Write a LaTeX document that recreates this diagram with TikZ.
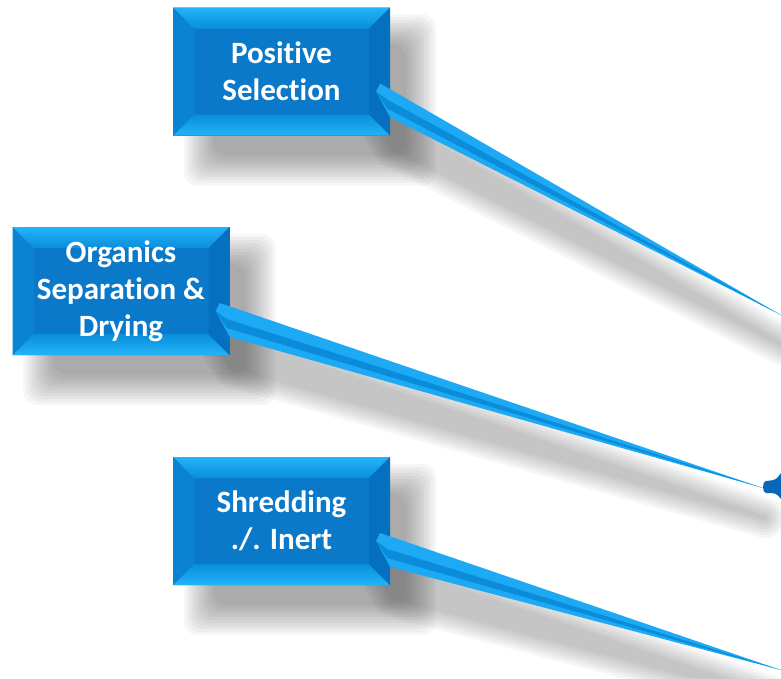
\documentclass[tikz,border=0pt]{standalone}
\usepackage{fontspec}
\setmainfont{Carlito}[Ligatures={NoCommon}]
\usepackage{tikz}
\usetikzlibrary{calc}
\pgfdeclarelayer{paper}
\pgfdeclarelayer{background}
\pgfsetlayers{paper,background,main}

\definecolor{boxface}{HTML}{0A79C9}
\definecolor{bevlight}{HTML}{22B4F8}
\definecolor{bevtop}{HTML}{0A8EDC}
\definecolor{bevleft}{HTML}{0A84D2}
\definecolor{bevright}{HTML}{0570BF}
\definecolor{tailblue}{HTML}{1DA9F4}
\definecolor{tailmid}{HTML}{0A8CDB}
\definecolor{blobblue}{HTML}{0568B8}
\definecolor{shadowgrey}{HTML}{303030}

% bevelled face of a stage box
\newcommand{\bevel}{%
  \coordinate (nw) at (path picture bounding box.north west);
  \coordinate (ne) at (path picture bounding box.north east);
  \coordinate (sw) at (path picture bounding box.south west);
  \coordinate (se) at (path picture bounding box.south east);
  \fill[top color=bevlight, bottom color=bevtop] (nw) -- (ne) -- ($(ne)+(-21,21)$) -- ($(nw)+(21,21)$) -- cycle;
  \fill[top color=bevtop, bottom color=bevlight] (sw) -- (se) -- ($(se)+(-21,-21)$) -- ($(sw)+(21,-21)$) -- cycle;
  \fill[bevleft] (nw) -- ($(nw)+(21,21)$) -- ($(sw)+(21,-21)$) -- (sw) -- cycle;
  \fill[bevright] (ne) -- ($(ne)+(-21,21)$) -- ($(se)+(-21,-21)$) -- (se) -- cycle;
}

% soft shadow behind a stage box
\newcommand{\boxshadow}[1]{%
  \foreach \e in {16,13,...,-14}{
    \fill[shadowgrey, opacity=0.045, rounded corners=14pt]
      ($(#1.north west)+(27-\e,23-\e)$) rectangle ($(#1.south east)+(30+\e,34+\e)$);
  }
}

% tail outline
\newcommand{\tailpath}[2]{($(#1.east)+(-14,20)$) -- ($(#1.east)+(-10,12)$) -- (#2) -- ($(#1.east)+(0,46)$) -- cycle}

% soft shadow under a tail
\newcommand{\tailshadow}[2]{%
  \begin{scope}[transform canvas={shift={(2,30)}}]
    \foreach \w in {40,34,...,4}{
      \begin{scope}[transparency group, opacity=0.045]
        \filldraw[shadowgrey, line width=\w pt, line join=round] \tailpath{#1}{#2};
      \end{scope}
    }
  \end{scope}
}

% tapering tail from a box to a free end
\newcommand{\tail}[2]{%
  \fill[tailblue] \tailpath{#1}{#2};
  \fill[tailmid] ($(#1.east)+(-14,20)$) -- ($(#1.east)+(-3,28)$) -- (#2) -- ($(#1.east)+(-3,37)$) -- cycle;
}

\tikzset{
  stage/.style={minimum width=217pt, minimum height=128pt, inner sep=0pt,
    fill=boxface, text=white, align=center,
    font=\fontsize{31}{37}\selectfont\bfseries,
    path picture={\bevel}},
}

\begin{document}
\begin{tikzpicture}[x=1pt, y=-1pt]
    \begin{pgfonlayer}{paper}
      \fill[white] (0,0) rectangle (781,678);
    \end{pgfonlayer}
    \useasboundingbox (0,0) rectangle (781,678);

    \node[stage] (positive) at (281.5,71.5) {Positive\\Selection};
    \node[stage] (organics) at (121,291) {Organics\\Separation \&\\Drying};
    \node[stage] (shredding) at (281.5,521) {Shredding\\./. Inert};

    \coordinate (end1) at (781,315);
    \coordinate (end2) at (763,488);
    \coordinate (end3) at (781,670);

    \begin{pgfonlayer}{background}
      \boxshadow{positive}
      \boxshadow{organics}
      \boxshadow{shredding}
      \tailshadow{positive}{end1}
      \tailshadow{organics}{end2}
      \tailshadow{shredding}{end3}
    \end{pgfonlayer}

    \tail{positive}{end1}
    \tail{organics}{end2}
    \tail{shredding}{end3}

    % cut-off shape at the right edge
    \fill[blobblue] (781,473) .. controls (776,480) .. (766,481)
        .. controls (762,481) and (762,493) .. (766,493)
        .. controls (776,493) .. (781,499) -- cycle;
\end{tikzpicture}
\end{document}
